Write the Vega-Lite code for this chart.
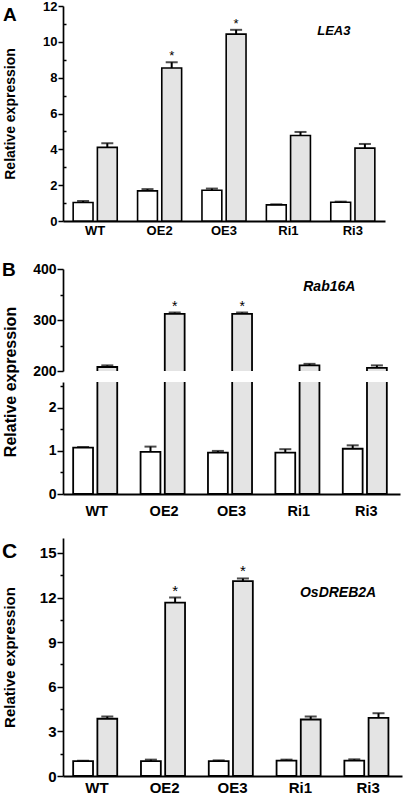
{
  "$schema": "https://vega.github.io/schema/vega-lite/v6.json",
  "background": "white",
  "padding": {"left": 1, "top": 0, "right": 2, "bottom": 0},
  "config": {
    "view": {"stroke": null},
    "font": "Liberation Sans",
    "axis": {"labelFont": "Liberation Sans", "labelFontWeight": "bold", "labelColor": "black", "titleFont": "Liberation Sans", "titleFontWeight": "bold", "titleColor": "black", "domainColor": "black", "tickColor": "black", "grid": false, "labelOverlap": false},
    "text": {"font": "Liberation Sans", "color": "black"},
    "title": {"font": "Liberation Sans", "fontWeight": "bold", "color": "black", "anchor": "start", "frame": "bounds", "baseline": "top"}
  },
  "datasets": {
    "lea3": [
      {"g": "WT", "t": "a", "v": 1.03, "e": 1.12},
      {"g": "WT", "t": "b", "v": 4.11, "e": 4.34},
      {"g": "OE2", "t": "a", "v": 1.68, "e": 1.78},
      {"g": "OE2", "t": "b", "v": 8.54, "e": 8.86, "s": "*"},
      {"g": "OE3", "t": "a", "v": 1.72, "e": 1.81},
      {"g": "OE3", "t": "b", "v": 10.43, "e": 10.67, "s": "*"},
      {"g": "Ri1", "t": "a", "v": 0.9, "e": 0.93},
      {"g": "Ri1", "t": "b", "v": 4.77, "e": 4.97},
      {"g": "Ri3", "t": "a", "v": 1.05, "e": 1.08},
      {"g": "Ri3", "t": "b", "v": 4.07, "e": 4.3}
    ],
    "rab": [
      {"g": "WT", "t": "a", "v": 1.075, "e": 1.09},
      {"g": "WT", "t": "b", "v": 207.8, "e": 211},
      {"g": "OE2", "t": "a", "v": 0.98, "e": 1.1},
      {"g": "OE2", "t": "b", "v": 312, "e": 314.7, "s": "*"},
      {"g": "OE3", "t": "a", "v": 0.96, "e": 1.0},
      {"g": "OE3", "t": "b", "v": 312, "e": 314.7, "s": "*"},
      {"g": "Ri1", "t": "a", "v": 0.96, "e": 1.04},
      {"g": "Ri1", "t": "b", "v": 211, "e": 214},
      {"g": "Ri3", "t": "a", "v": 1.05, "e": 1.13},
      {"g": "Ri3", "t": "b", "v": 206, "e": 211}
    ],
    "dreb": [
      {"g": "WT", "t": "a", "v": 1.0, "e": 1.02},
      {"g": "WT", "t": "b", "v": 3.85, "e": 4.0},
      {"g": "OE2", "t": "a", "v": 1.0, "e": 1.1},
      {"g": "OE2", "t": "b", "v": 11.66, "e": 12.0, "s": "*"},
      {"g": "OE3", "t": "a", "v": 1.0, "e": 1.05},
      {"g": "OE3", "t": "b", "v": 13.1, "e": 13.28, "s": "*"},
      {"g": "Ri1", "t": "a", "v": 1.03, "e": 1.1},
      {"g": "Ri1", "t": "b", "v": 3.8, "e": 4.0},
      {"g": "Ri3", "t": "a", "v": 1.03, "e": 1.12},
      {"g": "Ri3", "t": "b", "v": 3.91, "e": 4.22}
    ]
  },
  "spacing": 20,
  "vconcat": [
    {
      "spacing": 24,
      "vconcat": [
        {
          "title": {"text": "A", "fontSize": 19, "offset": -25},
          "width": 322,
          "height": 215,
          "layer": [
            {
              "data": {"name": "lea3"},
              "encoding": {
                "x": {"field": "g", "type": "nominal", "sort": ["WT", "OE2", "OE3", "Ri1", "Ri3"], "scale": {"paddingInner": 0, "paddingOuter": 0}, "axis": {"title": null, "ticks": false, "labelAngle": 0, "labelPadding": 3, "domainWidth": 2, "labelFontSize": 13}},
                "xOffset": {"field": "t", "type": "nominal", "scale": {"domain": ["a", "b"], "paddingInner": 0.18, "paddingOuter": 0.42}}
              },
              "resolve": {"axis": {"y": "independent"}},
              "layer": [
                {
                  "mark": {"type": "bar", "stroke": "black", "strokeWidth": 1.6},
                  "encoding": {
                    "y": {"field": "v", "type": "quantitative", "title": "Relative expression", "scale": {"domain": [0, 12]},
                      "axis": {"orient": "left", "values": [0, 2, 4, 6, 8, 10, 12], "tickSize": 5, "tickWidth": 1.5, "domainWidth": 1.7, "labelPadding": 1, "labelFontSize": 13, "titleFontSize": 14, "titleX": -46, "titleY": 107.5, "titleAlign": "center", "titleBaseline": "bottom", "titleAngle": -90}},
                    "fill": {"field": "t", "type": "nominal", "scale": {"domain": ["a", "b"], "range": ["#ffffff", "#e4e4e4"]}, "legend": null}
                  }
                },
                {
                  "mark": {"type": "rule", "strokeWidth": 2, "color": "black"},
                  "encoding": {"y": {"field": "v", "type": "quantitative", "title": null, "axis": {"orient": "left", "values": [1, 3, 5, 7, 9, 11], "labels": false, "domain": false, "tickSize": -3, "tickWidth": 1.5}}, "y2": {"field": "e"}}
                },
                {
                  "mark": {"type": "tick", "thickness": 2, "size": 12, "color": "black", "orient": "horizontal"},
                  "encoding": {"y": {"field": "e", "type": "quantitative", "axis": null}}
                },
                {
                  "transform": [{"filter": "datum.s != null"}],
                  "mark": {"type": "text", "baseline": "bottom", "fontSize": 13, "dy": 1},
                  "encoding": {"y": {"field": "e", "type": "quantitative", "axis": null}, "text": {"field": "s"}}
                }
              ]
            },
            {
              "data": {"values": [{"label": "LEA3"}]},
              "mark": {"type": "text", "fontStyle": "italic", "fontWeight": "bold", "fontSize": 13, "dx": -19},
              "encoding": {"x": {"datum": "Ri3", "title": null}, "y": {"datum": 10.6, "axis": null}, "text": {"field": "label"}}
            }
          ]
        },
        {
          "title": {"text": "B", "fontSize": 19, "offset": -18},
          "spacing": 11,
          "bounds": "flush",
          "vconcat": [
            {
              "width": 337,
              "height": 102,
              "layer": [
                {
                  "data": {"name": "rab"},
                  "transform": [{"filter": "datum.t === 'b'"}],
                  "encoding": {
                    "x": {"field": "g", "type": "nominal", "sort": ["WT", "OE2", "OE3", "Ri1", "Ri3"], "scale": {"domain": ["WT", "OE2", "OE3", "Ri1", "Ri3"], "paddingInner": 0, "paddingOuter": 0}, "axis": null},
                    "xOffset": {"field": "t", "type": "nominal", "scale": {"domain": ["a", "b"], "paddingInner": 0.18, "paddingOuter": 0.42}}
                  },
                  "resolve": {"axis": {"y": "independent"}},
                  "layer": [
                    {
                      "mark": {"type": "bar", "stroke": "black", "strokeWidth": 1.8, "fill": "#e4e4e4", "clip": true},
                      "encoding": {
                        "y": {"field": "v", "type": "quantitative", "title": null, "scale": {"domain": [200, 400]},
                          "axis": {"orient": "left", "values": [200, 300, 400], "tickSize": 6, "tickWidth": 1.5, "domainWidth": 1.7, "labelPadding": 1, "labelFontSize": 14}},
                        "y2": {"datum": 196}
                      }
                    },
                    {
                      "mark": {"type": "rule", "strokeWidth": 2, "color": "black", "clip": true},
                      "encoding": {"y": {"field": "v", "type": "quantitative", "title": null, "axis": {"orient": "left", "values": [250, 350], "labels": false, "domain": false, "tickSize": 3, "tickWidth": 1.5}}, "y2": {"field": "e"}}
                    },
                    {
                      "mark": {"type": "tick", "thickness": 2, "size": 12, "color": "black", "orient": "horizontal"},
                      "encoding": {"y": {"field": "e", "type": "quantitative", "axis": null}}
                    },
                    {
                      "transform": [{"filter": "datum.s != null"}],
                      "mark": {"type": "text", "baseline": "bottom", "fontSize": 14, "dy": 1},
                      "encoding": {"y": {"field": "e", "type": "quantitative", "axis": null}, "text": {"field": "s"}}
                    }
                  ]
                },
                {
                  "data": {"values": [{"label": "Rab16A"}]},
                  "mark": {"type": "text", "fontStyle": "italic", "fontWeight": "bold", "fontSize": 14, "dx": -37},
                  "encoding": {"x": {"datum": "Ri3", "axis": null}, "y": {"datum": 364, "axis": null}, "text": {"field": "label"}}
                }
              ]
            },
            {
              "width": 337,
              "height": 112,
              "data": {"name": "rab"},
              "encoding": {
                "x": {"field": "g", "type": "nominal", "sort": ["WT", "OE2", "OE3", "Ri1", "Ri3"], "scale": {"paddingInner": 0, "paddingOuter": 0}, "axis": {"title": null, "ticks": false, "labelAngle": 0, "labelPadding": 10, "domainWidth": 2, "labelFontSize": 14.5}},
                "xOffset": {"field": "t", "type": "nominal", "scale": {"domain": ["a", "b"], "paddingInner": 0.18, "paddingOuter": 0.42}}
              },
              "resolve": {"axis": {"y": "independent"}},
              "layer": [
                {
                  "mark": {"type": "bar", "stroke": "black", "strokeWidth": 1.8, "clip": true},
                  "encoding": {
                    "y": {"field": "v", "type": "quantitative", "title": "Relative expression", "scale": {"domain": [0, 2.5]},
                      "axis": {"orient": "left", "values": [0, 1, 2], "tickSize": 6, "tickWidth": 1.5, "domainWidth": 1.7, "labelPadding": 1, "labelFontSize": 14, "titleFontSize": 16, "titleX": -45, "titleY": -0.5, "titleAlign": "center", "titleBaseline": "bottom", "titleAngle": -90}},
                    "fill": {"field": "t", "type": "nominal", "scale": {"domain": ["a", "b"], "range": ["#ffffff", "#e4e4e4"]}, "legend": null}
                  }
                },
                {
                  "transform": [{"filter": "datum.t === 'a'"}],
                  "mark": {"type": "rule", "strokeWidth": 2, "color": "black", "clip": true},
                  "encoding": {"y": {"field": "v", "type": "quantitative", "title": null, "axis": {"orient": "left", "values": [0.5, 1.5, 2.5], "labels": false, "domain": false, "tickSize": 3, "tickWidth": 1.5}}, "y2": {"field": "e"}}
                },
                {
                  "transform": [{"filter": "datum.t === 'a'"}],
                  "mark": {"type": "tick", "thickness": 2, "size": 12, "color": "black", "orient": "horizontal", "clip": true},
                  "encoding": {"y": {"field": "e", "type": "quantitative", "axis": null}}
                }
              ]
            }
          ]
        }
      ]
    },
    {
      "title": {"text": "C", "fontSize": 21, "offset": -24},
      "width": 339,
      "height": 238,
      "layer": [
        {
          "data": {"name": "dreb"},
          "encoding": {
            "x": {"field": "g", "type": "nominal", "sort": ["WT", "OE2", "OE3", "Ri1", "Ri3"], "scale": {"paddingInner": 0, "paddingOuter": 0}, "axis": {"title": null, "ticks": false, "labelAngle": 0, "labelPadding": 4, "domainWidth": 2, "labelFontSize": 15}},
            "xOffset": {"field": "t", "type": "nominal", "scale": {"domain": ["a", "b"], "paddingInner": 0.18, "paddingOuter": 0.42}}
          },
          "resolve": {"axis": {"y": "independent"}},
          "layer": [
            {
              "mark": {"type": "bar", "stroke": "black", "strokeWidth": 1.8},
              "encoding": {
                "y": {"field": "v", "type": "quantitative", "title": "Relative expression", "scale": {"domain": [0, 15]},
                  "axis": {"orient": "left", "values": [0, 3, 6, 9, 12, 15], "tickSize": 6, "tickWidth": 1.5, "domainWidth": 1.7, "labelPadding": 1, "labelFontSize": 15, "titleFontSize": 15, "titleX": -46, "titleY": 119, "titleAlign": "center", "titleBaseline": "bottom", "titleAngle": -90}},
                "fill": {"field": "t", "type": "nominal", "scale": {"domain": ["a", "b"], "range": ["#ffffff", "#e4e4e4"]}, "legend": null}
              }
            },
            {
              "mark": {"type": "rule", "strokeWidth": 2, "color": "black"},
              "encoding": {"y": {"field": "v", "type": "quantitative", "title": null, "axis": {"orient": "left", "values": [1.5, 4.5, 7.5, 10.5, 13.5], "labels": false, "domain": false, "tickSize": 3, "tickWidth": 1.5}}, "y2": {"field": "e"}}
            },
            {
              "mark": {"type": "tick", "thickness": 2, "size": 12, "color": "black", "orient": "horizontal"},
              "encoding": {"y": {"field": "e", "type": "quantitative", "axis": null}}
            },
            {
              "transform": [{"filter": "datum.s != null"}],
              "mark": {"type": "text", "baseline": "bottom", "fontSize": 15, "dy": 1},
              "encoding": {"y": {"field": "e", "type": "quantitative", "axis": null}, "text": {"field": "s"}}
            }
          ]
        },
        {
          "data": {"values": [{"label": "OsDREB2A"}]},
          "mark": {"type": "text", "fontStyle": "italic", "fontWeight": "bold", "fontSize": 14, "dx": -30},
          "encoding": {"x": {"datum": "Ri3", "title": null}, "y": {"datum": 12.3, "axis": null}, "text": {"field": "label"}}
        }
      ]
    }
  ]
}
